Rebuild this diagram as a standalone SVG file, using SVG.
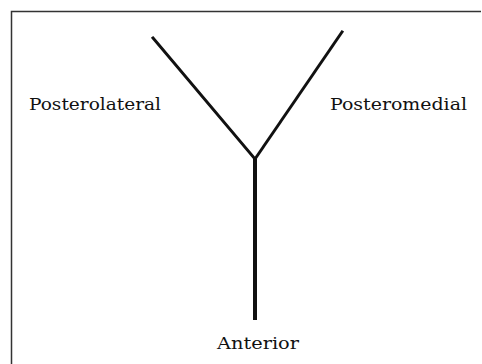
<svg xmlns="http://www.w3.org/2000/svg" width="482" height="364" viewBox="0 0 482 364">
<style>
.lbl{font-family:"DejaVu Serif","Liberation Serif",serif;font-size:16px;fill:#111}
.br{stroke:#111;fill:none;stroke-linecap:square}
</style>
<rect width="482" height="364" fill="#fff"/>
<path d="M11.5,364 V11.5 H481" fill="none" stroke="#333" stroke-width="1.5"/>
<g id="connectors">
<line class="br" x1="153" y1="38" x2="255" y2="159" stroke-width="3"/>
<line class="br" x1="342" y1="32" x2="255" y2="159" stroke-width="3"/>
<line x1="255" y1="159" x2="255" y2="320" stroke="#111" stroke-width="4"/>
</g>
<g id="posterolateral"><text class="lbl" x="29" y="110" textLength="132" lengthAdjust="spacingAndGlyphs">Posterolateral</text></g>
<g id="posteromedial"><text class="lbl" x="330" y="110" textLength="137" lengthAdjust="spacingAndGlyphs">Posteromedial</text></g>
<g id="anterior"><text class="lbl" x="217" y="349" textLength="82" lengthAdjust="spacingAndGlyphs">Anterior</text></g>
</svg>
